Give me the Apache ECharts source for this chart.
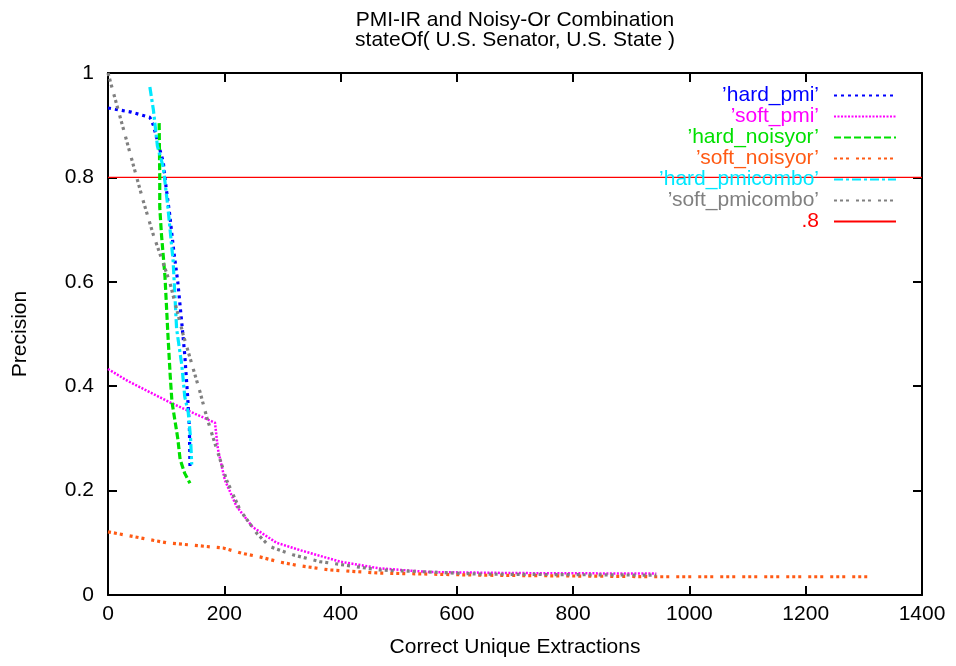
<!DOCTYPE html>
<html>
<head>
<meta charset="utf-8">
<script src="https://cdn.jsdelivr.net/npm/echarts@6/dist/echarts.min.js"></script>
<style>html,body{margin:0;padding:0;background:#fff}#c{width:956px;height:666px}</style>
</head>
<body>
<div id="c"></div>
<script>
const titleLines = ['PMI-IR and Noisy-Or Combination', 'stateOf( U.S. Senator, U.S. State )'];
const xName = 'Correct Unique Extractions';
const yName = 'Precision';
const seriesNames = ['\u2019hard_pmi\u2019', '\u2019soft_pmi\u2019', '\u2019hard_noisyor\u2019', '\u2019soft_noisyor\u2019', '\u2019hard_pmicombo\u2019', '\u2019soft_pmicombo\u2019', '.8'];

const hardPmi = [[0,0.933],[40,0.925],[72,0.915],[78,0.9],[85,0.87],[95,0.83],[100,0.78],[106,0.73],[113,0.66],[120,0.60],[127,0.52],[132,0.46],[137,0.38],[140,0.32],[141,0.245]];
const softPmi = [[0,0.433],[34,0.41],[110,0.367],[184,0.33],[189,0.28],[201,0.22],[221,0.17],[249,0.13],[290,0.10],[330,0.086],[399,0.064],[467,0.051],[553,0.044],[700,0.042],[943,0.041]];
const hardNoisyor = [[88,0.904],[89,0.80],[89,0.743],[92,0.69],[98,0.61],[103,0.50],[107,0.42],[110,0.37],[115,0.335],[120,0.30],[124,0.26],[132,0.233],[141,0.214]];
const softNoisyor = [[0,0.121],[101,0.10],[198,0.09],[230,0.08],[261,0.073],[296,0.063],[324,0.057],[381,0.048],[467,0.042],[639,0.038],[943,0.035],[1309,0.035]];
const hardPmicombo = [[72,0.973],[78,0.93],[85,0.86],[95,0.82],[103,0.743],[112,0.64],[118,0.51],[127,0.44],[132,0.38],[138,0.35],[142,0.3],[144,0.25]];
const softPmicombo = [[0,1.0],[60,0.757],[78,0.69],[106,0.60],[129,0.50],[158,0.39],[170,0.34],[184,0.29],[204,0.22],[227,0.163],[256,0.118],[278,0.093],[318,0.077],[364,0.064],[467,0.048],[639,0.04],[943,0.038]];
const refLine = [[0,0.8],[1400,0.8]];

const xMin = 0, xMax = 1400, xStep = 200;
const yMin = 0, yMax = 1, yStep = 0.2;

const colors = ['#0000ff', '#ff00ff', '#00e000', '#ff5a14', '#00e8ff', '#808080', '#ff0000'];
const dashes = [[3,4],[2,1.5],[7,3],[3,3,3,3,3,7],[9,3,3,3],[3,3,3,3,3,7],'solid'];
const widths = [3.2,2.5,3.2,3.2,3.2,3.2,1.2];
const datasets = [hardPmi, softPmi, hardNoisyor, softNoisyor, hardPmicombo, softPmicombo, refLine];

const FONT = 'Liberation Sans';
const FS = 21;
const chart = echarts.init(document.getElementById('c'));
const axisCommon = {
  axisLine: {show: true, onZero: false, lineStyle: {color: '#000', width: 2}},
  axisTick: {show: true, inside: true, length: 9, lineStyle: {color: '#000', width: 2}},
  splitLine: {show: false}
};
chart.setOption({
  animation: false,
  textStyle: {fontFamily: FONT},
  title: {
    text: titleLines.join('\n'),
    left: 515, top: 10, textAlign: 'center', padding: 0,
    textStyle: {fontFamily: FONT, fontSize: FS, fontWeight: 'normal', color: '#000', lineHeight: 20}
  },
  grid: {left: 108, right: 34, top: 73, bottom: 71, containLabel: false},
  legend: {
    orient: 'vertical', right: 59, top: 85, align: 'right', padding: 0,
    itemWidth: 62, itemHeight: 14, itemGap: 0,
    itemStyle: {opacity: 0},
    textStyle: {fontFamily: FONT, fontSize: FS, lineHeight: 20.5, padding: [0, 10, 0, 0]},
    data: seriesNames.map((n, i) => ({name: n, textStyle: {color: colors[i]}}))
  },
  xAxis: [
    Object.assign({type: 'value', min: xMin, max: xMax, interval: xStep, position: 'bottom',
      name: xName, nameLocation: 'middle', nameGap: 42,
      nameTextStyle: {fontFamily: FONT, fontSize: FS, color: '#000'},
      axisLabel: {fontFamily: FONT, fontSize: FS, color: '#000', margin: 9, formatter: v => String(v)}}, axisCommon),
    Object.assign({type: 'value', min: xMin, max: xMax, interval: xStep, position: 'top',
      axisLabel: {show: false}}, axisCommon)
  ],
  yAxis: [
    Object.assign({type: 'value', min: yMin, max: yMax, interval: yStep, position: 'left',
      name: yName, nameLocation: 'middle', nameGap: 77,
      nameTextStyle: {fontFamily: FONT, fontSize: FS, color: '#000'},
      axisLabel: {fontFamily: FONT, fontSize: FS, color: '#000', margin: 14, formatter: v => String(Math.round(v * 10) / 10)}}, axisCommon),
    Object.assign({type: 'value', min: yMin, max: yMax, interval: yStep, position: 'right',
      axisLabel: {show: false}}, axisCommon)
  ],
  series: datasets.map((d, i) => ({
    name: seriesNames[i], type: 'line', data: d, symbol: 'none', smooth: false,
    xAxisIndex: 0, yAxisIndex: 0, clip: true, z: i === 6 ? 1 : 2,
    itemStyle: {color: colors[i]},
    lineStyle: {color: colors[i], width: widths[i], type: dashes[i], cap: 'butt'}
  }))
});
</script>
</body>
</html>
